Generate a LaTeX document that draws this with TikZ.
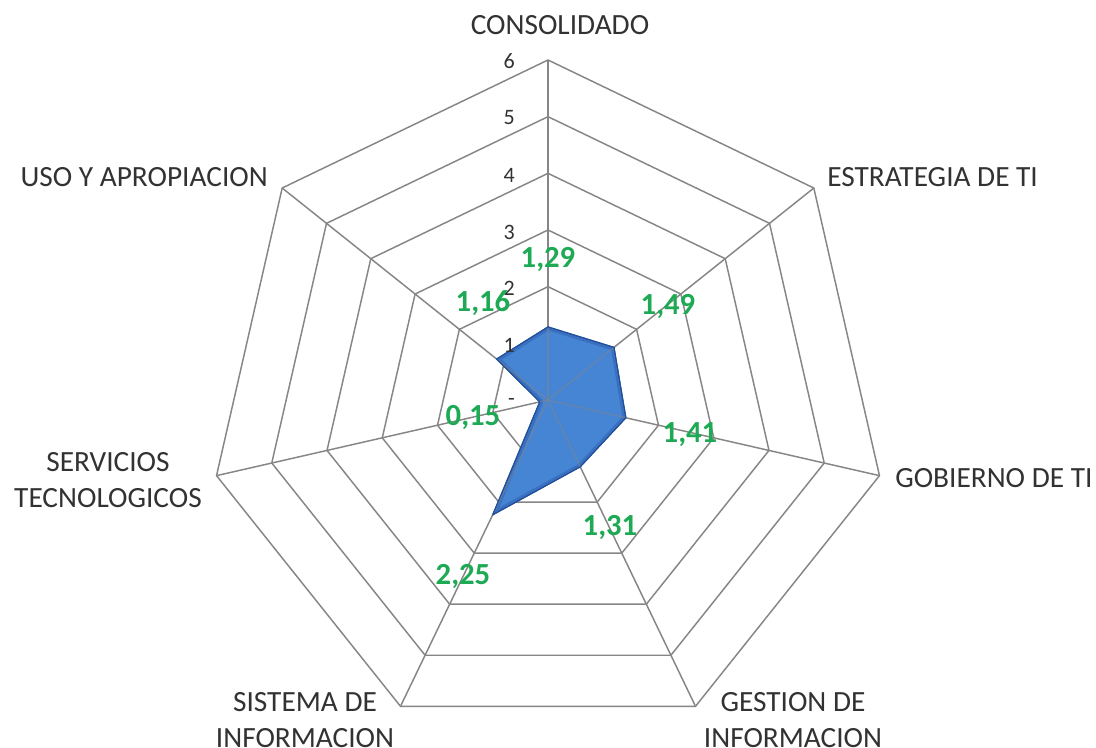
\documentclass[tikz,border=0pt]{standalone}
\usepackage{fontspec}
\setmainfont{Carlito}
\definecolor{gridgray}{RGB}{134,134,134}
\definecolor{txtgray}{RGB}{50,50,50}
\definecolor{datagreen}{RGB}{30,170,85}
\definecolor{polyfill}{RGB}{70,132,212}
\definecolor{polyedge}{RGB}{35,80,155}
\begin{document}
\begin{tikzpicture}[x=0.75pt,y=-0.75pt,
  gridline/.style={draw=gridgray,line width=1.1pt,line join=miter},
  axislabel/.style={font=\fontsize{22}{27}\selectfont,text=txtgray,align=center,inner sep=0pt},
  ticklabel/.style={font=\fontsize{16.5}{19}\selectfont,text=txtgray,inner sep=0pt,anchor=east},
  datalabel/.style={font=\fontsize{23}{27}\selectfont\bfseries,text=datagreen,inner sep=0pt},
  datapoly/.style={fill=polyfill,draw=polyedge,line width=0.8pt,line join=round}]
\useasboundingbox (0,0) rectangle (1096,748);
\fill[white] (0,0) rectangle (1096,748);
\coordinate (c) at (548,400);
\begin{scope}[shift={(548,400)}]
  % rings
  \foreach \r in {1,...,6}{
    \draw[gridline] (-90:\r*56.667)
      \foreach \k in {1,...,6}{ -- ({-90+\k*51.4286}:\r*56.667) } -- cycle;
  }
  % spokes
  \foreach \k in {0,...,6}{
    \coordinate (v\k) at ({-90+\k*51.4286}:340);
    \draw[gridline] (0,0) -- (v\k);
  }
  % data points
  \coordinate (p0) at (-90:1.29*56.667);
  \coordinate (p1) at ({-90+1*51.4286}:1.49*56.667);
  \coordinate (p2) at ({-90+2*51.4286}:1.41*56.667);
  \coordinate (p3) at ({-90+3*51.4286}:1.31*56.667);
  \coordinate (p4) at ({-90+4*51.4286}:2.25*56.667);
  \coordinate (p5) at ({-90+5*51.4286}:0.15*56.667);
  \coordinate (p6) at ({-90+6*51.4286}:1.16*56.667);
  \path[datapoly] (p0) -- (p1) -- (p2) -- (p3) -- (p4) -- (p5) -- (p6) -- cycle;
  \begin{scope}
    \clip (p0) -- (p1) -- (p2) -- (p3) -- (p4) -- (p5) -- (p6) -- cycle;
    \draw[polyedge,line width=5pt,opacity=0.35,line join=round]
      (p0) -- (p1) -- (p2) -- (p3) -- (p4) -- (p5) -- (p6) -- cycle;
  \end{scope}
  \foreach \k in {0,...,6}{
    \draw[draw=gridgray,opacity=0.45,line width=1.1pt] (0,0) -- (p\k);
  }
  \draw[polyedge,line width=0.8pt,line join=round]
    (p0) -- (p1) -- (p2) -- (p3) -- (p4) -- (p5) -- (p6) -- cycle;
\end{scope}
% tick labels
\node[ticklabel] (t6) at (515,61) {6};
\node[ticklabel] (t5) at (515,118) {5};
\node[ticklabel] (t4) at (515,175) {4};
\node[ticklabel] (t3) at (515,232) {3};
\node[ticklabel] (t2) at (515,288) {2};
\node[ticklabel] (t1) at (515,345) {1};
\node[ticklabel] (t0) at (515,402) {-};
% axis labels
\node[axislabel] (lcons) at (560,25) {CONSOLIDADO};
\node[axislabel,anchor=west] (lest) at (827,177) {ESTRATEGIA DE TI};
\node[axislabel,anchor=west] (lgob) at (895,478) {GOBIERNO DE TI};
\node[axislabel] (lges) at (793,720) {GESTION DE\\INFORMACION};
\node[axislabel] (lsis) at (305,720) {SISTEMA DE\\INFORMACION};
\node[axislabel] (lser) at (108,480) {SERVICIOS\\TECNOLOGICOS};
\node[axislabel,anchor=east] (luso) at (268,177) {USO Y APROPIACION};
% data labels
\node[datalabel] (d0) at (548,260) {1,29};
\node[datalabel] (d1) at (668,307) {1,49};
\node[datalabel] (d2) at (690,435) {1,41};
\node[datalabel] (d3) at (610,528) {1,31};
\node[datalabel] (d4) at (463,577) {2,25};
\node[datalabel] (d5) at (473,418) {0,15};
\node[datalabel] (d6) at (483,303) {1,16};
\end{tikzpicture}
\end{document}
